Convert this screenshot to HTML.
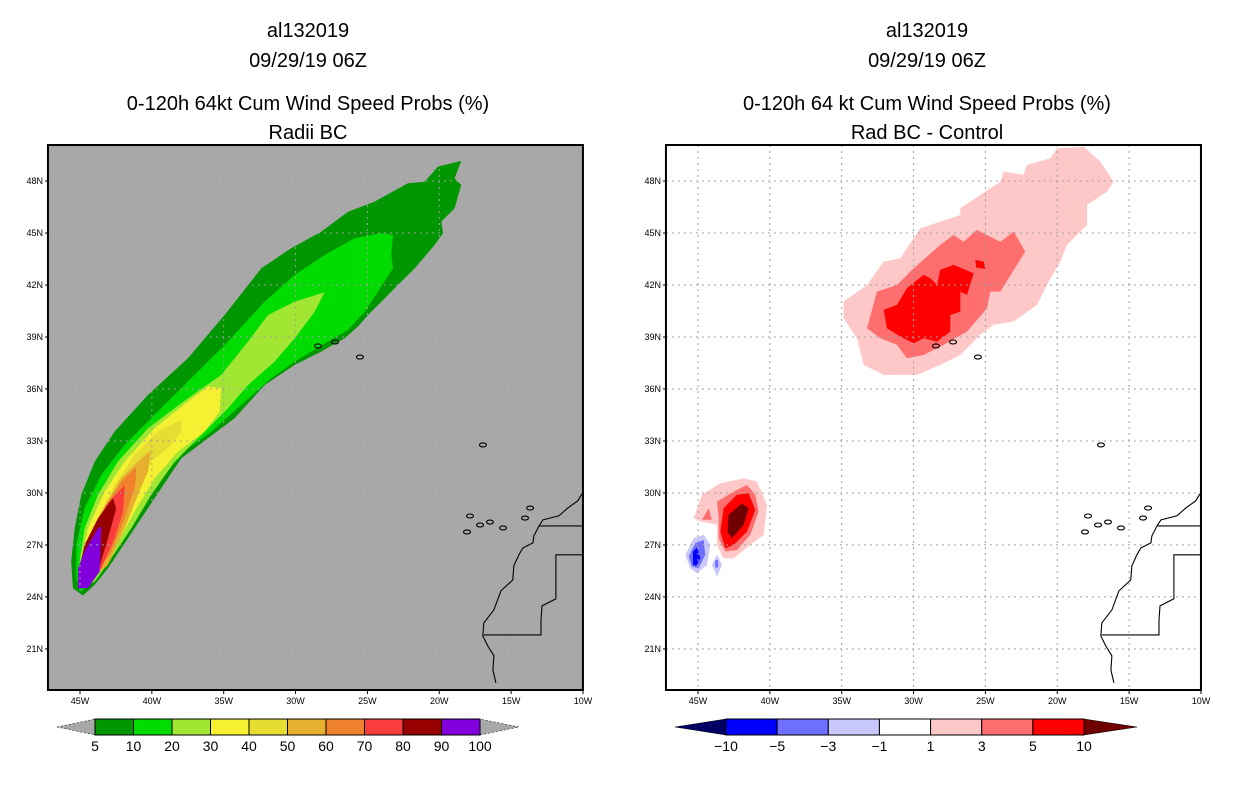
<!DOCTYPE html>
<html><head><meta charset="utf-8">
<style>
html,body{margin:0;padding:0;background:#fff;}
body{width:1236px;height:800px;overflow:hidden;font-family:"Liberation Sans",sans-serif;}
svg text{font-family:"Liberation Sans",sans-serif;}
</style></head>
<body>
<svg id="root" width="1236" height="800" viewBox="0 0 1236 800" xmlns="http://www.w3.org/2000/svg">
<g id="titles" font-size="20" text-anchor="middle" fill="#000">
  <text x="308" y="37">al132019</text>
  <text x="308" y="67">09/29/19 06Z</text>
  <text x="308" y="110">0-120h 64kt Cum Wind Speed Probs (%)</text>
  <text x="308" y="139">Radii BC</text>
  <text x="927" y="37">al132019</text>
  <text x="927" y="67">09/29/19 06Z</text>
  <text x="927" y="110">0-120h 64 kt Cum Wind Speed Probs (%)</text>
  <text x="927" y="139">Rad BC - Control</text>
</g>
</svg>
<script>
// ---- data ----
const latTicks = [48,45,42,39,36,33,30,27,24,21];
const lonTicks = [45,40,35,30,25,20,15,10];
const leftLevels = ['5','10','20','30','40','50','60','70','80','90','100'];
const leftColors = ['#009600','#00dc00','#a0e632','#f5f032','#e6dc32','#e6af2d','#f0822d','#fa3c3c','#960000','#8200dc'];
const rightLevels = ['-10','-5','-3','-1','1','3','5','10'];
const rightColors = ['#0000ff','#6e6eff','#c8c8ff','#ffffff','#ffc8c8','#ff6e6e','#ff0000'];
// contour polygons [degW, degN]
const p5 = [[44.79,24.08],[45.49,24.5],[45.61,26.04],[45.37,27.96],[44.91,29.89],[43.98,31.81],[42.59,33.54],[40.27,35.66],[37.49,37.77],[34.94,40.27],[32.38,42.96],[30.3,44.12],[28.21,45.08],[26.35,46.23],[24.5,46.81],[22.18,47.87],[21.02,47.96],[20.09,48.83],[18.47,49.16],[18.93,48.16],[18.47,47.77],[18.93,46.43],[19.86,45.66],[19.74,44.98],[20.32,44.31],[21.71,42.96],[23.11,41.81],[24.96,40.27],[25.66,39.6],[26.59,38.93],[28.21,38.16],[30.06,37.39],[32.15,36.23],[34.24,34.31],[36.1,33.16],[37.95,32],[39.81,29.7],[41.66,27.39],[43.05,25.66],[43.98,24.7]];
const p10 = [[44.91,24.31],[45.26,25.08],[45.26,27],[44.68,29.12],[43.52,31.04],[41.89,32.77],[39.58,34.7],[36.79,37],[34.7,38.73],[32.15,41.04],[30.06,42.58],[27.98,43.73],[25.89,44.7],[24.03,44.98],[23.22,44.89],[23.34,43.73],[23.22,42.96],[24.27,41.62],[25.19,40.46],[26.35,39.41],[27.74,38.73],[30.06,37.58],[31.69,36.62],[33.78,35.08],[35.86,33.54],[37.49,32.58],[39.58,30.66],[40.97,28.73],[42.59,26.62],[43.75,25.08]];
const p20 = [[44.91,24.5],[45.03,26.04],[44.68,27.96],[43.75,29.89],[42.36,31.81],[40.27,33.73],[37.49,35.46],[35.17,36.81],[33.31,38.73],[31.92,40.27],[30.06,41.04],[27.98,41.58],[28.67,40.46],[30.06,38.93],[31.46,37.58],[33.31,36.23],[34.7,34.89],[36.33,33.54],[38.42,31.81],[40.04,29.89],[41.43,27.96],[42.82,26.23],[43.98,24.89]];
const p30 = [[44.91,24.7],[44.91,26.04],[44.45,27.96],[43.29,30.08],[41.89,31.81],[39.81,33.73],[37.49,35.27],[36.1,36.14],[35.17,36.04],[35.29,34.7],[36.33,33.54],[38.18,32.39],[39.81,30.85],[41.2,28.93],[42.59,26.81],[43.98,25.08]];
const p40 = [[44.79,24.89],[44.68,26.43],[43.75,28.54],[42.59,30.46],[41.2,32.2],[39.58,33.54],[37.95,34.21],[37.95,33.54],[38.65,32.77],[40.04,31.81],[40.97,30.27],[42.13,27.96],[43.29,25.85],[44.21,24.89]];
const p50 = [[44.68,25.08],[44.45,27],[43.52,28.93],[42.13,30.85],[40.73,32],[40.04,32.48],[40.27,31.23],[40.97,29.89],[41.89,27.96],[43.05,25.85],[44.21,24.98]];
const p60 = [[44.56,25.27],[44.33,27.19],[43.29,29.12],[42.13,30.66],[41.08,31.52],[41.15,30.46],[41.89,28.54],[42.82,26.62],[43.98,25.18]];
const p70 = [[44.45,25.46],[44.21,27.39],[43.17,29.31],[41.89,30.46],[42.01,28.93],[42.59,27.39],[43.52,25.66],[44.1,25.27]];
const p80 = [[45.14,25.27],[44.68,27],[43.75,28.54],[42.71,29.7],[42.48,29.12],[43.05,27.39],[43.75,25.46],[44.45,24.5]];
const p90 = [[45.14,25.66],[44.68,26.62],[43.75,27.96],[43.52,28.06],[43.63,25.46],[44.45,24.5],[45.14,24.5]];
const leftPolys = [p5,p10,p20,p30,p40,p50,p60,p70,p80,p90];

const r1a = [[34.87,41.04],[33.24,42],[32.08,43.35],[30.92,43.54],[29.53,45.27],[26.75,46.04],[26.75,46.43],[23.96,47.96],[23.73,48.54],[22.34,48.35],[22.11,48.93],[20.48,49.31],[20.02,49.89],[18.16,49.98],[17,49.12],[16.08,47.96],[16.54,47.39],[17.93,46.62],[17.93,45.46],[19.32,44.31],[19.79,43.35],[20.72,42],[21.41,40.85],[23.04,39.89],[24.43,39.7],[25.36,39.12],[26.75,37.96],[28.14,37.39],[29.76,36.81],[32.08,36.81],[33.47,37.39],[33.94,38.93],[34.87,40.08]];
const r3a = [[33.24,39.5],[32.55,41.62],[31.15,42],[29.99,42.96],[28.14,44.31],[27.21,44.89],[26.51,44.5],[25.59,45.18],[23.96,44.5],[23.04,45.08],[22.22,43.93],[23.96,41.62],[24.66,41.62],[24.89,40.66],[26.28,39.31],[27.91,38.54],[29.3,37.96],[30.46,37.77],[31.15,38.54],[32.31,38.93]];
const r5a = [[32.08,40.56],[31.15,40.85],[30.46,41.81],[29.3,42.58],[28.83,42.39],[28.37,42],[28.14,42.87],[27.21,43.16],[25.82,42.68],[26.28,41.43],[26.75,41.62],[26.75,40.46],[27.44,40.27],[27.44,39.31],[28.37,38.73],[29.3,38.93],[29.99,38.64],[30.92,39.02],[31.85,39.5]];
const r5b = [[25.7,43.45],[25.12,43.35],[25.01,42.93],[25.63,43]];
const r1b = [[45.3,28.54],[44.72,29.89],[43.45,30.56],[41.83,30.85],[40.9,30.66],[40.2,29.31],[40.43,27.58],[41.36,27],[42.52,26.23],[43.22,26.23],[43.68,27],[43.68,28.16],[44.84,28.35]];
const r3b = [[43.68,29.5],[42.52,30.08],[41.59,30.46],[41.01,29.89],[40.78,28.93],[41.36,27.58],[42.29,26.71],[43.1,26.62],[43.56,27.39],[43.56,28.54]];
const r3c = [[44.72,28.45],[44.26,29.12],[44.03,28.45]];
const r5c = [[43.22,29.12],[42.29,29.89],[41.48,29.98],[41.01,29.02],[41.59,27.77],[42.52,27],[43.1,26.81],[43.45,27.77]];
const r10c = [[42.87,28.73],[41.94,29.41],[41.48,29.12],[41.83,28.16],[42.64,27.39],[42.94,27.77]];
const b1a = [[45.88,26.43],[45.3,27.39],[44.61,27.58],[44.14,27],[44.38,25.85],[45.07,25.37],[45.54,25.66]];
const b3a = [[45.65,26.33],[45.19,27.1],[44.61,27.29],[44.49,26.43],[44.96,25.66],[45.42,25.75]];
const b5a = [[45.35,26.62],[45.07,26.85],[44.84,26.23],[45.12,25.81],[45.35,25.85]];
const b1b = [[44.03,25.85],[43.68,26.43],[43.33,25.85],[43.68,25.18]];
const b3b = [[43.8,26.1],[43.6,26.15],[43.6,25.7],[43.8,25.7]];
const rightPolys = [[r1a,4],[r3a,5],[r5a,6],[r5b,6],[r1b,4],[r3b,5],[r3c,5],[r5c,6],[r10c,-1],[b1a,2],[b3a,1],[b5a,0],[b1b,2],[b3b,1]];

// coastline in degrees
const coast = [[10.07,29.95],[10.35,29.55],[11.04,29.14],[11.67,28.68],[12.78,28.45],[13.06,28.1],[13.41,27.52],[13.48,27.12],[14.18,26.83],[14.46,26.43],[14.81,25.79],[14.88,24.98],[15.71,24.35],[16.2,23.25],[16.9,22.5],[16.97,21.75],[16.62,21.17],[16.2,20.6],[16.27,19.79],[16.06,19.04]];
const border1 = [[13.06,28.1],[9.99,28.1]];
const border2 = [[9.99,26.43],[11.88,26.43],[11.88,23.89],[12.85,23.48],[12.92,22.67],[12.92,21.81],[16.9,21.81]];
const islands = [[28.44,38.48],[27.25,38.71],[25.52,37.84],[16.96,32.77],[17.86,28.67],[17.16,28.15],[16.47,28.32],[15.56,27.98],[14.03,28.55],[13.68,29.13],[18.07,27.75]];

// ---- drawing ----
const NS='http://www.w3.org/2000/svg';
const root=document.getElementById('root');
function mk(tag,attrs,parent){const e=document.createElementNS(NS,tag);for(const k in attrs)e.setAttribute(k,attrs[k]);(parent||root).appendChild(e);return e;}
function makePanel(x45){
  const sx=(w)=>x45+(45-w)*14.37;
  const sy=(n)=>181+(48-n)*17.33;
  return {sx,sy,left:sx(47.23),right:sx(10),top:145,bottom:690};
}
const L=makePanel(80), R=makePanel(698);
function pts(P,poly){return poly.map(p=>P.sx(p[0]).toFixed(1)+','+P.sy(p[1]).toFixed(1)).join(' ');}

function drawPanel(P,side,bg){
  const g=mk('g',{});
  
  
  const cid='clip'+side;
  const cp=mk('clipPath',{id:cid},g);
  mk('rect',{x:P.left,y:P.top,width:P.right-P.left,height:P.bottom-P.top},cp);
  const bgr=mk('rect',{x:P.left,y:P.top,width:P.right-P.left,height:P.bottom-P.top,fill:bg},g);
  
  
  const inner=mk('g',{'clip-path':'url(#'+cid+')'},g);
  return {g,inner};
}
function drawGridCoast(P,side,g,inner){
  const grid=mk('g',{stroke:'#a0a0a0','stroke-width':1,'stroke-dasharray':'2,4'},inner);
  
  
  lonTicks.forEach(w=>{mk('line',{x1:P.sx(w),x2:P.sx(w),y1:P.top,y2:P.bottom},grid);});
  latTicks.forEach(n=>{mk('line',{x1:P.left,x2:P.right,y1:P.sy(n),y2:P.sy(n)},grid);});
  const cg=mk('g',{fill:'none',stroke:'#000','stroke-width':1.1},inner);
  
  
  mk('polyline',{points:pts(P,coast)},cg);
  mk('polyline',{points:pts(P,border1)},cg);
  mk('polyline',{points:pts(P,border2)},cg);
  islands.forEach(p=>{mk('ellipse',{cx:P.sx(p[0]),cy:P.sy(p[1]),rx:3.5,ry:2},cg);});
  const fr=mk('rect',{x:P.left,y:P.top,width:P.right-P.left,height:P.bottom-P.top,fill:'none',stroke:'#000','stroke-width':2},g);
  
  
  const lab=mk('g',{'font-size':9,fill:'#000'},g);
  
  
  latTicks.forEach(n=>{
    const t=mk('text',{x:P.left-5,y:P.sy(n)+3,'text-anchor':'end'},lab);t.textContent=n+'N';
    mk('line',{x1:P.left-3,x2:P.left,y1:P.sy(n),y2:P.sy(n),stroke:'#000'},lab);
  });
  lonTicks.forEach(w=>{
    const t=mk('text',{x:P.sx(w),y:P.bottom+14,'text-anchor':'middle'},lab);t.textContent=w+'W';
    mk('line',{x1:P.sx(w),x2:P.sx(w),y1:P.bottom,y2:P.bottom+4,stroke:'#000'},lab);
  });
}

// Left panel
const lp=drawPanel(L,'left','#a8a8a8');
leftPolys.forEach((poly,i)=>{
  const e=mk('polygon',{points:pts(L,poly),fill:leftColors[i]},lp.inner);
  
  
});
drawGridCoast(L,'left',lp.g,lp.inner);

// Right panel
const rp=drawPanel(R,'right','#ffffff');
rightPolys.forEach(([poly,ci])=>{
  const col=ci<0?'#6e0000':rightColors[ci];
  const e=mk('polygon',{points:pts(R,poly),fill:col},rp.inner);
  
  
});
drawGridCoast(R,'right',rp.g,rp.inner);

// Colorbars
function colorbar(x0,x1,colors,labels,lowCol,highCol,tipL,tipR,side){
  const g=mk('g',{});
  
  
  const y0=719,y1=735,ym=727;
  mk('polygon',{points:`${tipL},${ym} ${x0},${y0} ${x0},${y1}`,fill:lowCol,stroke:'#000','stroke-width':0.5,'stroke-dasharray':lowCol=='#a8a8a8'?'2,2':'none'},g);
  mk('polygon',{points:`${tipR},${ym} ${x1},${y0} ${x1},${y1}`,fill:highCol,stroke:'#000','stroke-width':0.5,'stroke-dasharray':highCol=='#a8a8a8'?'2,2':'none'},g);
  const w=(x1-x0)/colors.length;
  colors.forEach((c,i)=>{
    const r=mk('rect',{x:x0+i*w,y:y0,width:w,height:y1-y0,fill:c,stroke:'#000','stroke-width':1},g);
    
    
  });
  labels.forEach((l,i)=>{
    const t=mk('text',{x:x0+i*w,y:751,'text-anchor':'middle','font-size':14,fill:'#000'},g);
    t.textContent=l.replace('-','\u2212');
    
    
  });
}
colorbar(95,480,leftColors,leftLevels,'#a8a8a8','#a8a8a8',57,519,'left');
colorbar(726,1084,rightColors,rightLevels,'#000064','#6e0000',675,1137,'right');
</script>
</body></html>
